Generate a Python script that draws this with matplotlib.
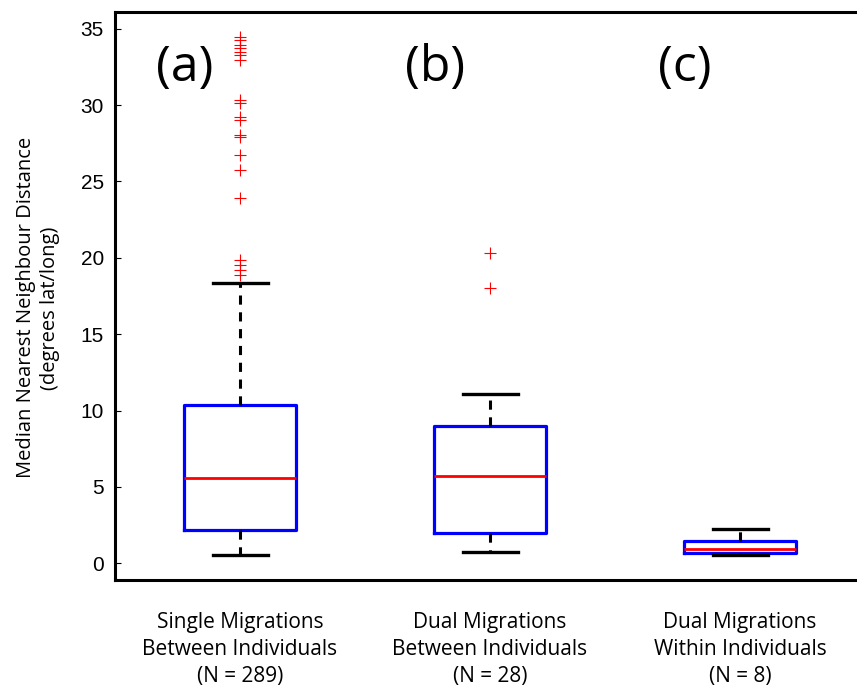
import numpy as np
import matplotlib
matplotlib.use('Agg')
import matplotlib.pyplot as plt

# summary stats
groups = ['Single Migrations\nBetween Individuals\n(N = 289)',
          'Dual Migrations\nBetween Individuals\n(N = 28)',
          'Dual Migrations\nWithin Individuals\n(N = 8)']
panel_tags = ['(a)', '(b)', '(c)']
medians = [5.55, 5.72, 0.94]
q1 = [2.16, 1.95, 0.67]
q3 = [10.35, 8.98, 1.46]
whisk_lo = [0.57, 0.74, 0.52]
whisk_hi = [18.33, 11.06, 2.27]
fliers_a = [34.49, 34.27, 33.94, 33.75, 33.51, 33.29, 32.96, 30.34, 30.14,
            29.25, 29.03, 28.05, 27.94, 26.74, 25.75, 23.92, 19.86, 19.53,
            19.2, 18.87]
fliers_b = [20.3, 18.0]
fliers_c = []
yticks = [0, 5, 10, 15, 20, 25, 30, 35]

stats = []
for i, fl in enumerate([fliers_a, fliers_b, fliers_c]):
    stats.append({'med': medians[i], 'q1': q1[i], 'q3': q3[i],
                  'whislo': whisk_lo[i], 'whishi': whisk_hi[i],
                  'fliers': np.array(fl), 'label': groups[i]})

fig = plt.figure(figsize=(8.57, 6.89), dpi=100)
ax = fig.add_axes([115/857, 109/689, 750/857, 568/689])

ax.bxp(stats, positions=[1, 2, 3], widths=0.45, capwidths=0.22,
       boxprops=dict(color='#0000ff', linewidth=2.3),
       medianprops=dict(color='#ff0000', linewidth=2),
       whiskerprops=dict(color='black', linewidth=2.2, linestyle=(0, (3, 2.5))),
       capprops=dict(color='black', linewidth=2.4),
       flierprops=dict(marker='+', markeredgecolor='#ff0000', markersize=9,
                       markeredgewidth=0.8, linestyle='none'))

ax.set_xlim(0.5, 3.5)
ax.set_ylim(-1.1, 36.1)
ax.set_yticks(yticks)
ax.tick_params(axis='y', direction='in', length=4, width=0.8, right=True,
               labelsize=15, pad=8)
for lab in ax.get_yticklabels():
    lab.set_family('Liberation Sans')
ax.tick_params(axis='x', length=0, pad=23)
ax.set_xticklabels(groups, family='Open Sans', fontsize=15, linespacing=1.38)
for sp in ax.spines.values():
    sp.set_linewidth(2.2)

for i, tag in enumerate(panel_tags):
    ax.text(i + 1 - 0.22, 32.4, tag, ha='center', va='center',
            fontsize=36, family='Open Sans')

fig.text(26/857, 1 - 307/689, 'Median Nearest Neighbour Distance',
         rotation=90, ha='center', va='center', fontsize=14.5, family='Open Sans')
fig.text(50/857, 1 - 308/689, '(degrees lat/long)',
         rotation=90, ha='center', va='center', fontsize=14.5, family='Open Sans')

fig.savefig('out.png', dpi=100)
